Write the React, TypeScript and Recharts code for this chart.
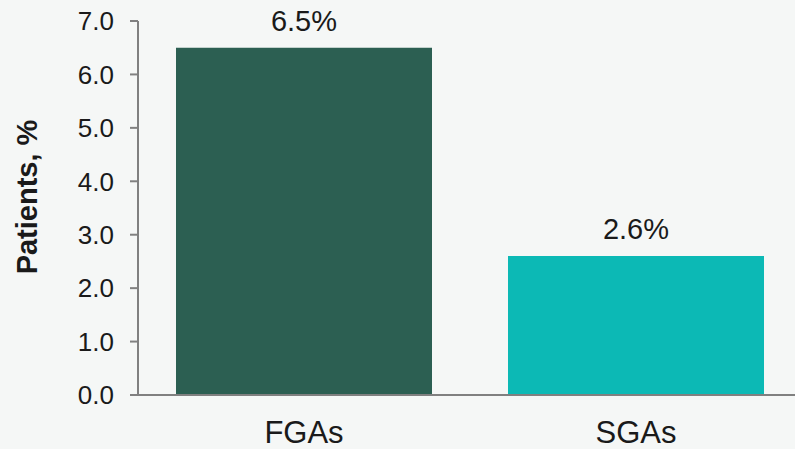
import { Bar, BarChart, Cell, LabelList, XAxis, YAxis } from "recharts";

const categories = ["FGAs", "SGAs"];
const patientsPct = [6.5, 2.6];
const yTicks = [0, 1, 2, 3, 4, 5, 6, 7];

const COLORS = ["#2c5f52", "#0cb9b5"];
const FONT = "'Liberation Sans', Arial, sans-serif";

const data = categories.map((name, i) => ({ name, value: patientsPct[i] }));

// eslint-disable-next-line @typescript-eslint/no-explicit-any
const renderYLabel = (props: any) => {
    const vb = props.viewBox || {};
    const cx = (vb.x ?? 0) + 27;
    const cy = (vb.y ?? 0) + (vb.height ?? 0) / 2 - 11;
    return (
        <text
            x={cx}
            y={cy}
            transform={`rotate(-90 ${cx} ${cy})`}
            textAnchor="middle"
            dominantBaseline="central"
            fontFamily={FONT}
            fontSize={29}
            fontWeight="bold"
            fill="#1a1a1a"
        >
            Patients, %
        </text>
    );
};

const App = () => {
    return (
        <div
            style={{
                position: "fixed",
                left: 0,
                top: 0,
                width: 795,
                height: 449,
                overflow: "hidden",
                background: "#f5f7f6",
            }}
        >
            <BarChart
                width={810}
                height={449}
                data={data}
                margin={{ top: 21, right: 8, bottom: 0, left: 0 }}
                barSize={256}
            >
                <XAxis
                    dataKey="name"
                    height={54}
                    axisLine={{ stroke: "#808080", strokeWidth: 2 }}
                    tickLine={false}
                    tickSize={6}
                    tickMargin={20}
                    tick={{ fill: "#1a1a1a", fontSize: 31, fontFamily: FONT }}
                />
                <YAxis
                    width={138}
                    domain={[0, 7]}
                    ticks={yTicks}
                    interval={0}
                    tickFormatter={(v: number) => v.toFixed(1)}
                    axisLine={{ stroke: "#808080", strokeWidth: 2 }}
                    tickLine={{ stroke: "#808080", strokeWidth: 2 }}
                    tickSize={8}
                    tickMargin={16}
                    tick={{ fill: "#1a1a1a", fontSize: 26, fontFamily: FONT }}
                    label={{ content: renderYLabel }}
                />
                <Bar dataKey="value" isAnimationActive={false}>
                    {data.map((entry, index) => (
                        <Cell key={`cell-${entry.name}`} fill={COLORS[index % COLORS.length]} />
                    ))}
                    <LabelList
                        dataKey="value"
                        position="top"
                        offset={17}
                        formatter={(v: unknown) => `${Number(v).toFixed(1)}%`}
                        style={{ fill: "#1a1a1a", fontSize: 29, fontFamily: FONT }}
                    />
                </Bar>
            </BarChart>
        </div>
    );
};

export default App;
